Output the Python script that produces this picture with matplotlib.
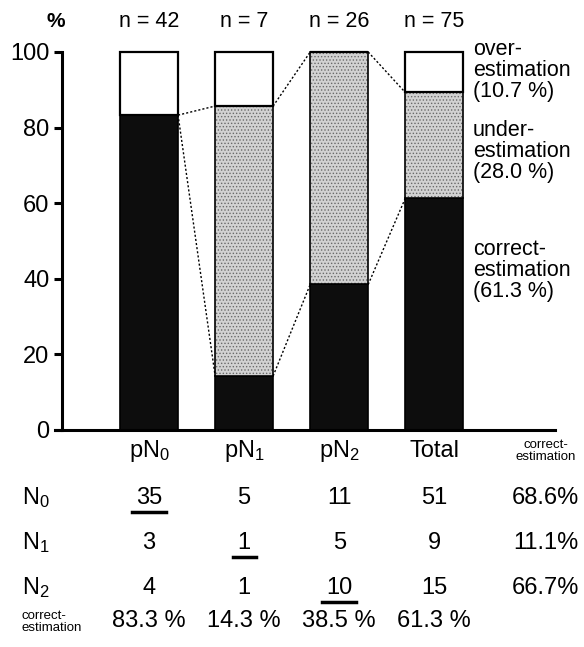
import matplotlib.pyplot as plt
import matplotlib.transforms as mtransforms
import numpy as np

plt.rcParams['font.family'] = ['Liberation Sans', 'DejaVu Sans']
plt.rcParams['mathtext.default'] = 'regular'
plt.rcParams['hatch.linewidth'] = 0.6

# data
groups = ['pN$_0$', 'pN$_1$', 'pN$_2$', 'Total']
n_vals = [42, 7, 26, 75]
correct = [83.3, 14.3, 38.5, 61.3]
under = [0.0, 71.4, 61.5, 28.0]
over = [16.7, 14.3, 0.0, 10.7]

row_labels = ['N$_0$', 'N$_1$', 'N$_2$']
counts = [[35, 5, 11, 51],
          [3, 1, 5, 9],
          [4, 1, 10, 15]]
row_pct = ['68.6%', '11.1%', '66.7%']
col_pct = ['83.3 %', '14.3 %', '38.5 %', '61.3 %']

side_labels = ['over-\nestimation\n(10.7 %)',
               'under-\nestimation\n(28.0 %)',
               'correct-\nestimation\n(61.3 %)']

W, H = 584, 647
fig = plt.figure(figsize=(W / 100, H / 100), dpi=100)
ax = fig.add_axes([62 / W, 1 - 430 / H, (555 - 62) / W, (430 - 52) / H])

x = np.arange(len(groups))
bw = 0.61
correct = np.array(correct)
under = np.array(under)
over = np.array(over)

ax.bar(x, correct, bw, color='#0d0d0d', edgecolor='black', lw=1.2, clip_on=False)
ax.bar(x, under, bw, bottom=correct, color='#d2d2d2', lw=0, clip_on=False)
# stipple texture on the under-estimation part
ax.bar(x, under, bw, bottom=correct, color='none', edgecolor='#6a6a6a', hatch='.....',
       lw=0, clip_on=False)
ax.bar(x, under, bw, bottom=correct, color='none', edgecolor='black', lw=1.2, clip_on=False)
ax.bar(x, over, bw, bottom=correct + under, color='white', edgecolor='black', lw=1.6, clip_on=False)

# dotted connectors between neighbouring bars
levels = [correct, correct + under]
for i in range(len(groups) - 1):
    for lv in levels:
        ax.plot([x[i] + bw / 2, x[i + 1] - bw / 2], [lv[i], lv[i + 1]],
                ls=(0, (1.5, 1.5)), color='black', lw=1.0, clip_on=False)

ax.set_xlim(-0.916, 4.27)
ax.set_ylim(0, 100)
ax.set_yticks([0, 20, 40, 60, 80, 100])
ax.set_xticks([])
for s in ['top', 'right']:
    ax.spines[s].set_visible(False)
ax.spines['left'].set_linewidth(2.2)
ax.spines['bottom'].set_linewidth(2.2)
ax.spines['bottom'].set_bounds(-0.99, 4.27)
ax.tick_params(axis='y', direction='out', length=6, width=2.2, labelsize=17, pad=3)

ax.text(-0.012, 108, '%', transform=mtransforms.blended_transform_factory(ax.transAxes, ax.transData),
        ha='center', va='center', fontsize=15, fontweight='bold')
for i, n in enumerate(n_vals):
    ax.text(x[i], 108, f'n = {n}', ha='center', va='center', fontsize=15.5, clip_on=False)

for lab, y in zip(side_labels, [103.5, 82, 50.5]):
    ax.text(x[-1] + bw / 2 + 0.1, y, lab, ha='left', va='top', fontsize=15.5, linespacing=1.0)

# table below the plot
tr = mtransforms.blended_transform_factory(ax.transData, fig.transFigure)
lab_x = -1.34
pct_x = 4.17
fs = 17


def fy(py):
    return 1 - py / H


for i, g in enumerate(groups):
    ax.text(x[i], fy(451), g, transform=tr, ha='center', va='center', fontsize=fs)
ax.text(pct_x, fy(451), 'correct-\nestimation', transform=tr, ha='center', va='center',
        fontsize=9.5, linespacing=1.0)

row_y = [498, 543, 588]
ul_hw = [0.18, 0.12, 0.18]
for r, lab in enumerate(row_labels):
    ax.text(lab_x, fy(row_y[r]), lab, transform=tr, ha='left', va='center', fontsize=fs)
    for c, v in enumerate(counts[r]):
        ax.text(x[c], fy(row_y[r]), str(v), transform=tr, ha='center', va='center', fontsize=fs)
    ax.text(pct_x, fy(row_y[r]), row_pct[r], transform=tr, ha='center', va='center', fontsize=fs)
    # underline the diagonal (correct) cells
    ax.plot([x[r] - ul_hw[r], x[r] + ul_hw[r]], [fy(row_y[r] + 14)] * 2, transform=tr,
            color='black', lw=2.5, clip_on=False)

ax.text(lab_x, fy(622), 'correct-\nestimation', transform=tr, ha='left', va='center',
        fontsize=9.5, linespacing=1.0)
for c, p in enumerate(col_pct):
    ax.text(x[c], fy(621), p, transform=tr, ha='center', va='center', fontsize=fs)

fig.savefig('out.png', dpi=100)
